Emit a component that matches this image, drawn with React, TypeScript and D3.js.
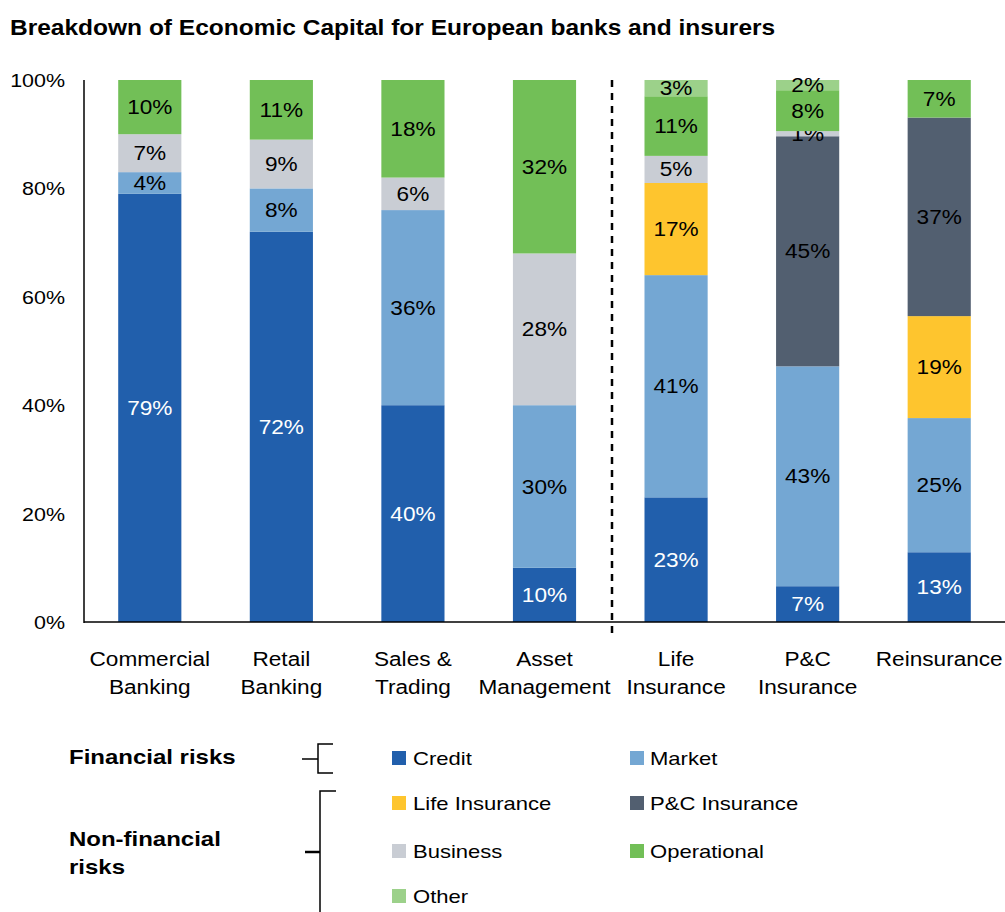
import React from "react";
import * as d3 from "d3";

const categories = [
  ["Commercial", "Banking"],
  ["Retail", "Banking"],
  ["Sales &", "Trading"],
  ["Asset", "Management"],
  ["Life", "Insurance"],
  ["P&C", "Insurance"],
  ["Reinsurance"],
];
const seriesNames = ["Credit", "Market", "Life Insurance", "P&C Insurance", "Business", "Operational", "Other"];
const credit = [79, 72, 40, 10, 23, 7, 13];
const market = [4, 8, 36, 30, 41, 43, 25];
const lifeIns = [0, 0, 0, 0, 17, 0, 19];
const pcIns = [0, 0, 0, 0, 0, 45, 37];
const business = [7, 9, 6, 28, 5, 1, 0];
const operational = [10, 11, 18, 32, 11, 8, 7];
const other = [0, 0, 0, 0, 3, 2, 0];
const colors = ["#215FAC", "#74A7D3", "#FEC52E", "#525F70", "#C9CDD4", "#72BF57", "#9CD18A"];
const yTicks = [0, 0.2, 0.4, 0.6, 0.8, 1];

const W = 1005, H = 912;
const FONT = "'Liberation Sans', Arial, sans-serif";
const SX = 1.16;

function T({ x, y, sx = SX, children, ...rest }: any) {
  return (
    <text transform={`translate(${x},${y}) scale(${sx},1)`} {...rest}>
      {children}
    </text>
  );
}

export default function App() {
  const seriesVals = [credit, market, lifeIns, pcIns, business, operational, other];
  const rows = categories.map((c, i) => {
    const o: any = { key: i };
    seriesNames.forEach((s, j) => (o[s] = seriesVals[j][i]));
    return o;
  });
  const stack = d3.stack<any>().keys(seriesNames).offset(d3.stackOffsetExpand);
  const stacked = stack(rows);

  const x = d3.scaleBand<number>().domain(categories.map((_, i) => i)).range([84, 1005]).paddingInner(0.52).paddingOuter(0.26);
  const y = d3.scaleLinear().domain([0, 1]).range([622, 80]);
  const cx = (i: number) => (x(i) as number) + x.bandwidth() / 2;

  return (
    <svg width={W} height={H} style={{ position: "absolute", left: 0, top: 0 }} fontFamily={FONT}>
      <rect width={W} height={H} fill="#fff" />
      <T x={10} y={35} sx={1.14} fontSize={21.5} fontWeight="bold" fill="#000">
        Breakdown of Economic Capital for European banks and insurers
      </T>
      {stacked.map((s, j) => (
        <g key={s.key}>
          {s.map((d, i) => {
            const v = seriesVals[j][i];
            if (!v) return null;
            const y0 = y(d[0]), y1 = y(d[1]);
            return (
              <g key={i}>
                <rect x={x(i)} y={y1} width={x.bandwidth()} height={y0 - y1} fill={colors[j]} />
                <T x={cx(i)} y={(y0 + y1) / 2 + 7} textAnchor="middle" fontSize={19.5} fill={j === 0 ? "#fff" : "#000"}>
                  {v}%
                </T>
              </g>
            );
          })}
        </g>
      ))}
      <line x1={84} x2={84} y1={80} y2={623} stroke="#000" strokeWidth={1.5} />
      <line x1={84} x2={1005} y1={622} y2={622} stroke="#000" strokeWidth={1.5} />
      {yTicks.map((t) => (
        <T key={t} x={65} y={y(t) + 7} textAnchor="end" fontSize={18.5} fill="#000">
          {Math.round(t * 100)}%
        </T>
      ))}
      <line x1={612} x2={612} y1={80} y2={637} stroke="#000" strokeWidth={2.5} strokeDasharray="7,6" />
      {categories.map((c, i) =>
        c.map((l, k) => (
          <T key={i + "-" + k} x={cx(i)} y={666 + k * 28} textAnchor="middle" fontSize={19.5} fill="#000">
            {l}
          </T>
        ))
      )}
      {/* legend groups */}
      <T x={69} y={764} sx={1.17} fontSize={20.5} fontWeight="bold">Financial risks</T>
      <T x={69} y={846} sx={1.17} fontSize={20.5} fontWeight="bold">Non-financial</T>
      <T x={69} y={874} sx={1.17} fontSize={20.5} fontWeight="bold">risks</T>
      <g stroke="#000" strokeWidth={1.5} fill="none">
        <path d="M302,759 H318 M333,744 H318 V773 H333" />
        <path d="M336,791 H320 V912" />
        <path d="M305,852 H320" strokeWidth={2.5} />
      </g>
      {[
        [0, 392, 758],
        [1, 630, 758],
        [2, 392, 803],
        [3, 630, 803],
        [4, 392, 851],
        [5, 630, 851],
        [6, 392, 896],
      ].map(([j, lx, ly]) => (
        <g key={j}>
          <rect x={lx} y={ly - 7} width={14} height={14} fill={colors[j]} />
          <T x={lx + (j % 2 === 0 ? 21 : 20)} y={ly + 7} fontSize={19} fill="#000">
            {seriesNames[j]}
          </T>
        </g>
      ))}
    </svg>
  );
}
